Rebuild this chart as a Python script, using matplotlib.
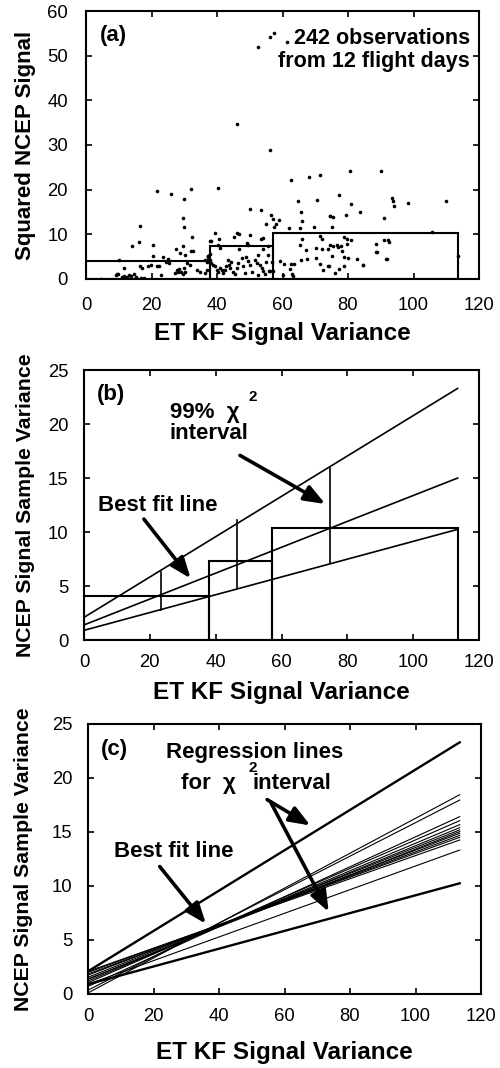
import matplotlib
matplotlib.use("Agg")
import matplotlib.pyplot as plt
from matplotlib.patches import Rectangle

plt.rcParams['font.family'] = ['Liberation Sans', 'DejaVu Sans']

# ---------------- data ----------------
obs_x = [21.6, 26.0, 32.1, 29.8, 29.7, 30.0, 16.4, 32.5, 16.2, 14.1, 20.5, 38.0, 27.5, 29.5,
         28.7, 30.1, 32.0, 32.6, 23.4, 25.1, 20.4, 10.2, 18.9, 19.9, 21.6, 22.4, 24.4, 25.2,
         16.6, 17.0, 11.7, 9.5, 9.9, 9.2, 11.0, 11.7, 12.4, 13.0, 13.6, 14.7, 15.3, 16.8, 17.6,
         4.6, 22.9, 27.7, 28.3, 28.9, 29.6, 30.1, 30.8, 31.9, 34.0, 34.8, 36.3, 36.9, 37.1, 37.4,
         27.3, 28.2, 30.0,
         40.2, 50.0, 53.3, 64.8, 70.6, 65.8, 66.0, 74.4, 56.5, 57.1, 58.8, 58.0, 57.3, 54.9,
         53.9, 53.4, 46.2, 46.6, 45.3, 50.0, 39.3, 38.1, 40.6, 40.2, 41.0, 46.8, 49.3, 49.6,
         55.6, 54.1, 62.1, 65.3, 69.6, 71.3, 72.0, 66.0, 65.3, 67.3, 70.2, 72.2, 74.0, 71.6,
         72.4, 65.8, 67.6, 70.1, 59.1, 60.5, 62.6, 63.5, 62.4, 63.0, 63.3, 60.3, 56.7, 57.1,
         56.0, 37.1, 37.8, 37.3,
         36.3, 36.8, 37.8, 38.3, 38.8, 39.4, 39.9, 40.4, 40.9, 41.4, 41.9, 42.4, 42.9, 43.4,
         43.6, 43.9, 44.4, 44.9, 45.5, 46.0, 46.5, 47.5, 48.0, 48.5, 49.0, 49.5, 50.0, 50.6,
         51.6, 52.1, 52.6, 53.1, 53.6, 54.1, 54.6, 55.1, 55.6, 56.1, 52.6,
         77.1, 80.9, 83.7, 93.7, 94.1, 98.3, 110.0, 91.0, 79.3, 74.5, 75.3, 75.1, 105.7, 78.8,
         79.6, 80.9, 79.6, 74.4, 75.5, 76.6, 76.9, 77.9, 73.9, 78.1, 88.5, 88.6, 90.9, 92.1,
         92.5, 75.1, 78.8, 80.1, 82.6, 91.7, 74.2, 78.9, 77.3, 76.1, 84.7, 113.5,
         52.4, 56.2, 57.4, 61.5, 46.1, 56.2, 62.7, 68.2, 71.5, 80.6, 90.2,
         93.4, 88.9, 91.8, 84.6]
obs_y = [19.6, 19.1, 20.1, 17.8, 13.6, 11.7, 11.8, 9.3, 8.2, 7.3, 7.5, 8.6, 6.7, 7.3,
         5.8, 5.4, 6.3, 6.3, 4.9, 4.5, 5.1, 4.2, 2.9, 3.1, 2.9, 3.0, 3.7, 3.5,
         2.8, 2.5, 2.5, 1.0, 1.2, 0.9, 0.4, 0.7, 0.4, 0.9, 0.6, 1.1, 0.4, 0.3, 0.3,
         0.0, 0.8, 2.0, 2.2, 1.5, 1.1, 1.5, 3.5, 3.1, 1.9, 1.6, 1.4, 2.1, 5.2, 4.2,
         1.3, 1.5, 2.4,
         20.3, 15.7, 15.4, 17.4, 17.7, 15.1, 12.9, 14.1, 14.4, 13.5, 13.3, 12.3, 11.7, 12.3,
         9.1, 9.0, 10.4, 10.1, 9.5, 9.9, 10.4, 8.6, 9.0, 7.7, 6.9, 6.7, 8.0, 7.6,
         7.3, 6.6, 11.3, 11.3, 11.7, 9.7, 8.9, 8.9, 7.5, 6.4, 6.9, 6.7, 3.0, 3.3,
         2.0, 4.3, 4.4, 4.8, 4.0, 3.4, 3.4, 3.4, 2.2, 1.2, 0.7, 0.9, 3.9, 1.7,
         1.8, 5.2, 5.5, 5.0,
         4.3, 3.9, 4.3, 3.5, 3.1, 2.8, 2.0, 1.6, 2.4, 2.0, 1.3, 2.0, 2.8, 4.3,
         3.1, 2.4, 3.9, 1.6, 1.0, 2.4, 3.5, 4.6, 2.8, 1.3, 5.0, 4.0, 3.1, 1.6,
         4.3, 3.5, 5.4, 3.1, 2.4, 1.8, 1.0, 3.9, 5.4, 1.8, 0.9,
         18.7, 16.8, 15.0, 17.5, 16.4, 16.9, 17.5, 13.6, 14.4, 14.1, 13.9, 11.6, 10.6, 9.3,
         9.0, 8.8, 7.9, 7.5, 7.3, 7.6, 7.1, 7.4, 6.7, 6.3, 7.8, 6.1, 8.7, 8.7,
         8.2, 5.2, 5.0, 4.6, 4.4, 4.5, 3.0, 3.0, 2.2, 1.4, 3.1, 5.1,
         52.0, 54.2, 55.1, 53.1, 34.7, 28.9, 22.1, 22.8, 23.3, 24.1, 24.2,
         18.1, 6.1, 4.4, 3.1]

bin_edges = [0, 38, 57, 113.5]
bin_heights = [4.1, 7.3, 10.35]

# chi-square interval lines (value at x=0, value at x_end)
x_end = 113.5
upper_line = [2.1, 23.3]
best_line = [1.4, 15.0]
lower_line = [0.9, 10.25]

interval_x = [23.5, 46.5, 74.8]
interval_lo = [2.8, 4.85, 7.1]
interval_hi = [6.3, 11.1, 15.9]

# regression lines for chi-square interval (value at x=0, value at x_end)
reg_start = [0.1, 0.35, 0.7, 1.05, 1.2, 1.35, 1.55, 1.4, 1.75, 1.85, 2.0, 2.1, 0.9]
reg_end = [18.45, 17.96, 16.42, 16.05, 15.68, 15.40, 15.19, 15.03, 14.88, 14.69, 14.51, 14.26, 13.33]

xticks = [0, 20, 40, 60, 80, 100, 120]

# ---------------- figure ----------------
fig = plt.figure(figsize=(5.0, 10.68), dpi=100)
ax_a = fig.add_axes([0.172, 0.7388, 0.786, 0.2509])
ax_b = fig.add_axes([0.168, 0.4007, 0.790, 0.2528])
ax_c = fig.add_axes([0.176, 0.0693, 0.786, 0.2528])

TICKFS = 13.3
LABFS = 17.5
YLABFS = 15.3
ANNFS = 16
arrow_kw = dict(arrowstyle='-|>,head_length=0.9,head_width=0.35', lw=2.6, color='k',
                shrinkA=0, shrinkB=0, mutation_scale=14)


def style(ax, ylim, yticks, xpad, ypad):
    ax.set_xlim(0, 120)
    ax.set_ylim(*ylim)
    ax.set_xticks(xticks)
    ax.set_yticks(yticks)
    ax.tick_params(direction='in', top=True, right=True, length=4.5, width=1.2,
                   labelsize=TICKFS)
    ax.tick_params(axis='x', pad=xpad)
    ax.tick_params(axis='y', pad=ypad)
    for s in ax.spines.values():
        s.set_linewidth(1.5)


def labels(ax, ylab, xc, yc, ylabfs):
    ax.set_xlabel('ET KF Signal Variance', fontsize=LABFS, fontweight='bold', va='center')
    ax.xaxis.set_label_coords(0.5, yc)
    ax.set_ylabel(ylab, fontsize=ylabfs, fontweight='bold', va='center')
    ax.yaxis.set_label_coords(xc, 0.5)


def boxes(ax):
    for i in range(len(bin_heights)):
        ax.add_patch(Rectangle((bin_edges[i], 0), bin_edges[i + 1] - bin_edges[i],
                               bin_heights[i], fill=False, lw=1.5, ec='k', zorder=3))


# ---- (a)
ax = ax_a
ax.plot(obs_x, obs_y, 'o', color='k', ms=2.6, mew=0)
boxes(ax)
style(ax, (0, 60), [0, 10, 20, 30, 40, 50, 60], 13, 13)
labels(ax, 'Squared NCEP Signal', -0.155, -0.205, 16)
ax.text(4.3, 54.5, '(a)', fontsize=ANNFS, fontweight='bold', va='center')
ax.text(117.3, 51.3, '242 observations\nfrom 12 flight days', fontsize=15.5,
        fontweight='bold', ha='right', va='center', linespacing=1.1)

# ---- (b)
ax = ax_b
for ln in (upper_line, best_line, lower_line):
    ax.plot([0, x_end], ln, color='k', lw=1.2)
for xi, lo, hi in zip(interval_x, interval_lo, interval_hi):
    ax.plot([xi, xi], [lo, hi], color='k', lw=1.2)
boxes(ax)
style(ax, (0, 25), [0, 5, 10, 15, 20, 25], 10, 11)
labels(ax, 'NCEP Signal Sample Variance', -0.149, -0.193, YLABFS)
ax.text(4.0, 22.7, '(b)', fontsize=ANNFS, fontweight='bold', va='center')
ax.text(26.1, 21.1, '99%  χ', fontsize=ANNFS, fontweight='bold', va='center')
ax.text(50.0, 22.5, '2', fontsize=ANNFS - 5, fontweight='bold', va='center')
ax.text(26.1, 19.1, 'interval', fontsize=ANNFS, fontweight='bold', va='center')
ax.text(4.4, 12.5, 'Best fit line', fontsize=ANNFS, fontweight='bold', va='center')
ax.annotate('', xy=(73.3, 12.6), xytext=(47.4, 17.1), arrowprops=arrow_kw)
ax.annotate('', xy=(32.4, 5.7), xytext=(18.2, 11.2), arrowprops=arrow_kw)

# ---- (c)
ax = ax_c
for s0, s1 in zip(reg_start, reg_end):
    ax.plot([0, x_end], [s0, s1], color='k', lw=0.8)
ax.plot([0, x_end], upper_line, color='k', lw=1.7)
ax.plot([0, x_end], lower_line, color='k', lw=1.7)
style(ax, (0, 25), [0, 5, 10, 15, 20, 25], 10, 11)
labels(ax, 'NCEP Signal Sample Variance', -0.163, -0.215, YLABFS)
ax.text(3.8, 22.6, '(c)', fontsize=ANNFS, fontweight='bold', va='center')
ax.text(23.8, 22.4, 'Regression lines', fontsize=ANNFS, fontweight='bold', va='center')
ax.text(28.5, 19.5, 'for  χ', fontsize=ANNFS, fontweight='bold', va='center')
ax.text(49.0, 20.9, '2', fontsize=ANNFS - 5, fontweight='bold', va='center')
ax.text(50.3, 19.5, 'interval', fontsize=ANNFS, fontweight='bold', va='center')
ax.text(7.8, 13.2, 'Best fit line', fontsize=ANNFS, fontweight='bold', va='center')
ax.annotate('', xy=(67.9, 15.6), xytext=(54.7, 18.0), arrowprops=arrow_kw)
ax.annotate('', xy=(73.5, 7.6), xytext=(55.7, 17.8), arrowprops=arrow_kw)
ax.annotate('', xy=(36.0, 6.5), xytext=(21.9, 11.8), arrowprops=arrow_kw)

fig.savefig('out.png', dpi=100)
